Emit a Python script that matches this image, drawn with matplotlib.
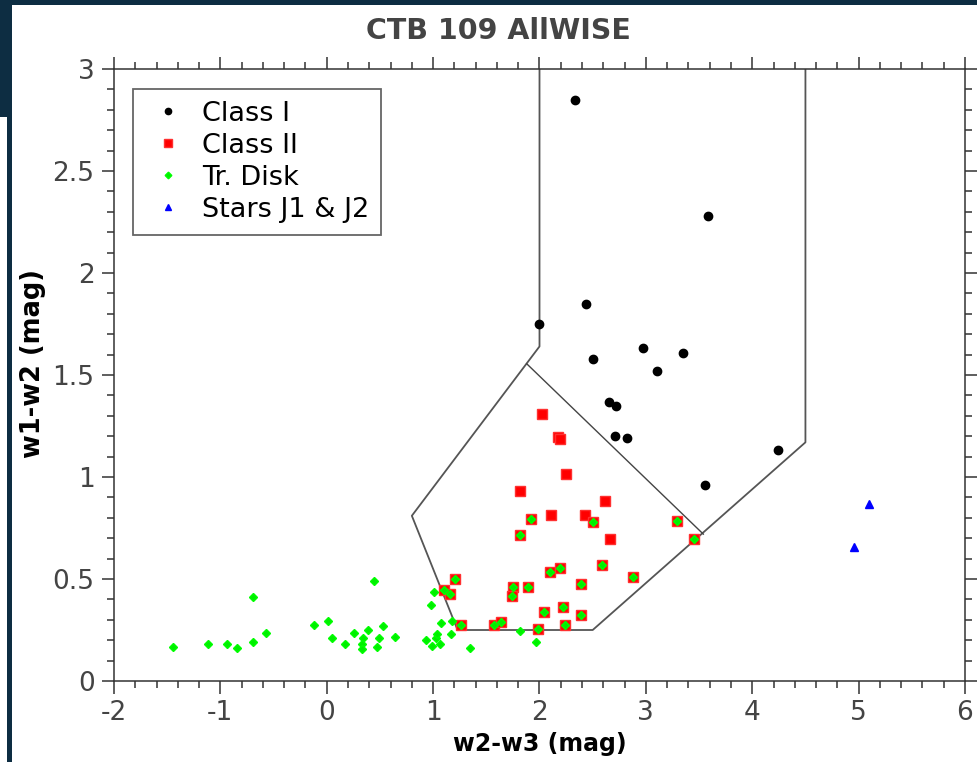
import numpy as np
import matplotlib
matplotlib.use("Agg")
import matplotlib.pyplot as plt
from matplotlib.patches import Rectangle

plt.rcParams['font.family'] = ['DejaVu Sans']
plt.rcParams['axes.unicode_minus'] = False

# WISE colour-colour data (w2-w3, w1-w2)
class1_x = [2.33, 3.58, 2.44, 2.00, 2.97, 3.35, 2.50, 3.10, 2.65, 2.72, 2.71, 2.82, 4.24, 3.56]
class1_y = [2.85, 2.28, 1.85, 1.75, 1.63, 1.61, 1.58, 1.52, 1.37, 1.35, 1.20, 1.19, 1.13, 0.96]

class2_x = [2.02, 2.17, 2.19, 2.25, 1.82, 2.62, 2.11, 2.43, 2.66,
            1.92, 2.50, 3.29, 3.45, 1.82, 2.59, 2.10, 2.19, 2.88, 1.21,
            2.39, 1.10, 1.16, 1.75, 1.89, 1.74, 2.22, 2.04, 2.39, 1.26,
            1.57, 1.64, 2.24, 1.99]
class2_y = [1.31, 1.195, 1.185, 1.015, 0.93, 0.88, 0.815, 0.815, 0.695,
            0.795, 0.78, 0.785, 0.695, 0.715, 0.57, 0.535, 0.555, 0.51, 0.50,
            0.475, 0.445, 0.425, 0.46, 0.46, 0.415, 0.365, 0.34, 0.325, 0.275,
            0.275, 0.29, 0.275, 0.255]

trdisk_x = [1.92, 2.50, 3.29, 3.45, 1.82, 2.59, 2.10, 2.19, 2.88, 1.21,
            2.39, 1.10, 1.16, 1.75, 1.89, 1.74, 2.22, 2.04, 2.39, 1.26,
            1.57, 1.64, 2.24, 1.99,
            -1.45, -1.12, -0.94, -0.84, -0.69, -0.69, -0.57, -0.12, 0.01, 0.05,
            0.17, 0.26, 0.34, 0.39, 0.33, 0.33, 0.53, 0.49, 0.47, 0.44,
            0.64, 0.93, 0.99, 1.03, 1.04, 1.06, 1.07, 1.17, 1.18, 0.98,
            1.01, 1.35, 1.82, 1.97]
trdisk_y = [0.795, 0.78, 0.785, 0.695, 0.715, 0.57, 0.535, 0.555, 0.51, 0.50,
            0.475, 0.445, 0.425, 0.46, 0.46, 0.415, 0.365, 0.34, 0.325, 0.275,
            0.275, 0.29, 0.275, 0.255,
            0.165, 0.18, 0.18, 0.16, 0.19, 0.41, 0.235, 0.275, 0.295, 0.21,
            0.18, 0.235, 0.21, 0.25, 0.18, 0.155, 0.27, 0.21, 0.165, 0.49,
            0.215, 0.20, 0.17, 0.21, 0.23, 0.18, 0.285, 0.23, 0.295, 0.375,
            0.435, 0.16, 0.245, 0.19]

stars_x = [5.10, 4.96]
stars_y = [0.87, 0.655]

# Koenig-style class boundaries
bound_x = [2.0, 2.0, 0.8, 1.23, 2.5, 4.5, 4.5]
bound_y = [3.0, 1.64, 0.81, 0.25, 0.25, 1.17, 3.0]
class2_top_x = [1.88, 3.54]
class2_top_y = [1.555, 0.72]

W, H = 978, 762
fig = plt.figure(figsize=(W / 100, H / 100), dpi=100, facecolor='#0d2d42')
fig.patches.append(Rectangle((12 / W, 0), 1 - 12 / W, 1 - 5 / H,
                             transform=fig.transFigure, facecolor='white',
                             edgecolor='none', zorder=-1))
fig.patches.append(Rectangle((0, 0), 7 / W, 1 - 117 / H,
                             transform=fig.transFigure, facecolor='white',
                             edgecolor='none', zorder=-1))

ax = fig.add_axes([114 / W, 1 - 681 / H, 851 / W, 612 / H])
ax.set_zorder(2)

ax.plot(bound_x, bound_y, color='#555555', lw=1.3, zorder=1)
ax.plot(class2_top_x, class2_top_y, color='#444444', lw=1.0, zorder=1)

ax.plot(class1_x, class1_y, 'o', color='black', ms=6, label='Class I', zorder=3)
ax.plot(class2_x, class2_y, 's', color='red', mec='#ff3030', ms=7, label='Class II', zorder=3)
ax.plot(trdisk_x, trdisk_y, 'D', color='#00ee00', mec='#00ff00', ms=4.5, label='Tr. Disk', zorder=4)
ax.plot(stars_x, stars_y, '^', color='blue', ms=6, label='Stars J1 & J2', zorder=3)

ax.set_xlim(-2, 6)
ax.set_ylim(0, 3)
ax.set_xticks(np.arange(-2, 7, 1))
ax.set_yticks(np.arange(0, 3.01, 0.5))
ax.set_yticklabels(['0', '0.5', '1', '1.5', '2', '2.5', '3'])
ax.set_xticks(np.arange(-2, 6.01, 0.2), minor=True)
ax.set_yticks(np.arange(0, 3.01, 0.1), minor=True)

ax.tick_params(which='both', direction='out', top=True, right=True,
               color='#333333', width=1.1)
ax.tick_params(which='major', length=9, labelsize=19, labelcolor='#444444', pad=5)
ax.tick_params(which='minor', length=5)
for s in ax.spines.values():
    s.set_color('#333333')
    s.set_linewidth(1.1)

ax.set_xlabel('w2-w3 (mag)', fontsize=17, fontweight='bold', labelpad=4)
ax.set_ylabel('w1-w2 (mag)', fontsize=18.5, fontweight='bold')
ax.yaxis.set_label_coords(-0.080, 0.518)
fig.text(0.510, 0.959, 'CTB 109 AllWISE', ha='center', va='center',
         fontsize=20.5, fontweight='bold', color='#444444')

leg = ax.legend(loc='upper left', bbox_to_anchor=(0.022, 0.968), borderaxespad=0,
                fontsize=19.5, fancybox=False, framealpha=1, edgecolor='#666666',
                markerscale=0.75, handlelength=1.7, handletextpad=0.4,
                labelspacing=0.22, borderpad=0.45)
leg.get_frame().set_linewidth(1.3)

fig.savefig('out.png', dpi=100, facecolor=fig.get_facecolor())
